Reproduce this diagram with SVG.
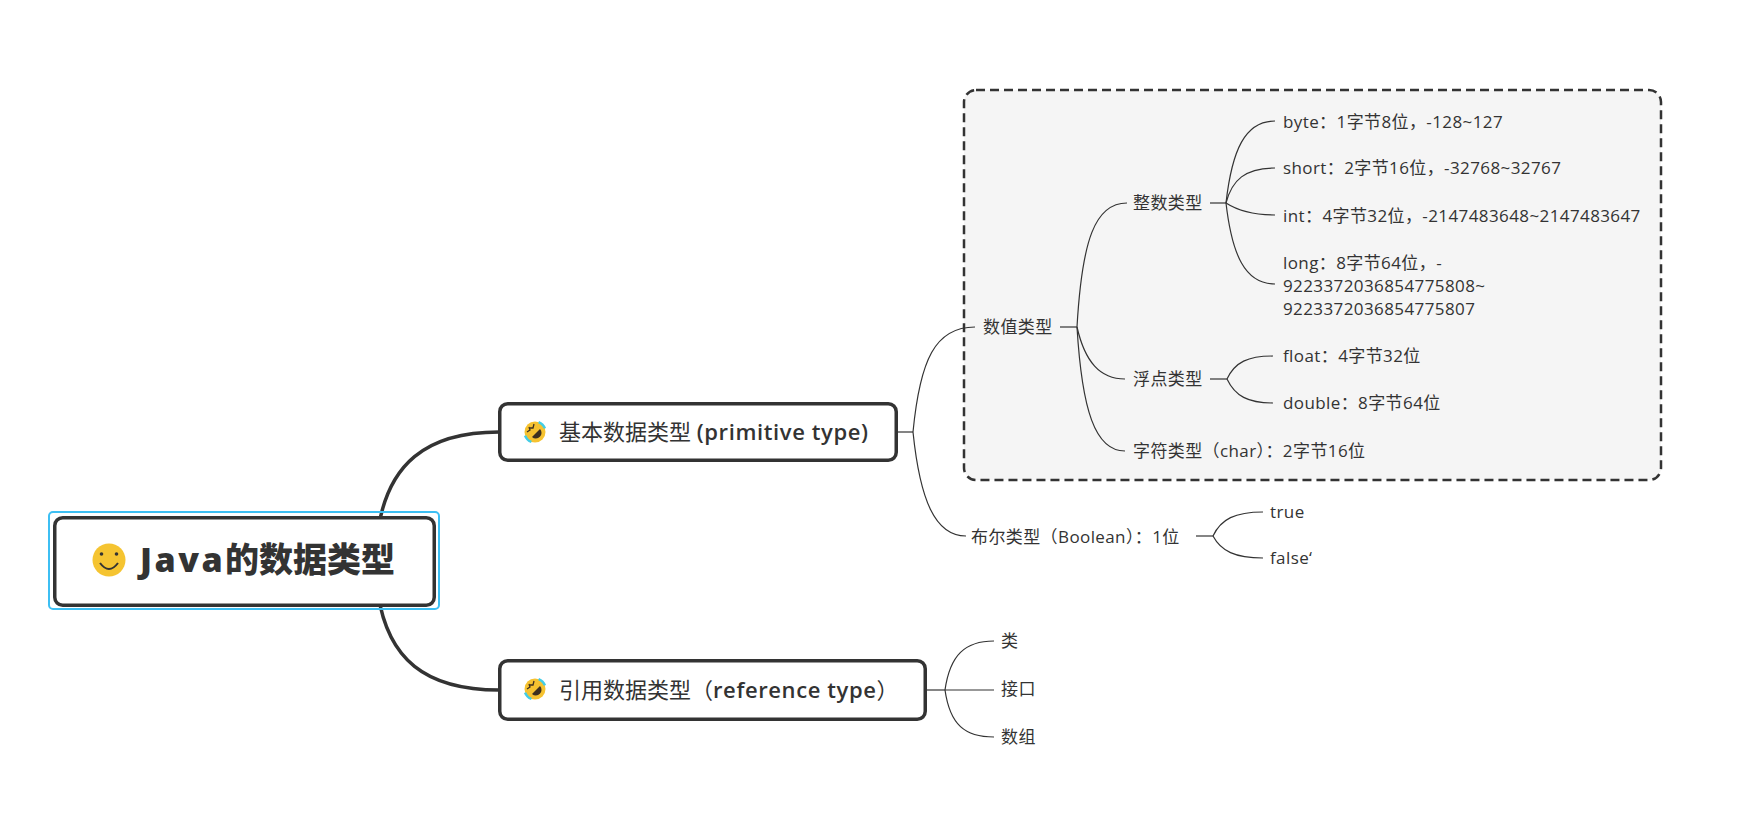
<svg xmlns="http://www.w3.org/2000/svg" width="1751" height="815" viewBox="0 0 1751 815">
<style>
text{font-family:"Open Sans","Noto Sans CJK SC",sans-serif;fill:#333}
.leaf{font-size:17px;letter-spacing:0.4px}
.prim{font-size:22px}
.lat{font-weight:600;letter-spacing:0.6px}
.thin{fill:none;stroke:#333;stroke-width:1.2}
.thick{fill:none;stroke:#333;stroke-width:3.5}
.box{fill:#fff;stroke:#333;stroke-width:3.5}
</style>
<defs>
<g id="rofl">
<circle r="10.5" fill="#F6C230"/>
<path d="M -3 5 L 5 -3 A 5.66 5.66 0 0 1 -3 5 Z" fill="#3d3020"/>
<path d="M -8 0 L -5 -2 L -6 -5" fill="none" stroke="#3d3020" stroke-width="1.3"/>
<path d="M -1 -8 L -2 -4 L -5 -4" fill="none" stroke="#3d3020" stroke-width="1.3"/>
<path d="M 3.6 -9.9 A 10.5 10.5 0 0 1 9.9 -3.6" fill="none" stroke="#43CDE6" stroke-width="2.5"/>
<path d="M -9.9 3.6 A 10.5 10.5 0 0 0 -3.6 9.9" fill="none" stroke="#43CDE6" stroke-width="2.5"/>
</g>
</defs>
<rect width="1751" height="815" fill="#fff"/>

<g id="boundary">
<rect x="964" y="90" width="697" height="390" rx="12" fill="#f5f5f5" stroke="#333" stroke-width="2.5" stroke-dasharray="9 5"/>
</g>

<g id="connectors">
<path class="thick" d="M 378 530 C 388 465, 425 432, 499 432"/>
<path class="thick" d="M 378 594 C 388 659, 425 690, 499 690"/>
<path class="thin" d="M 898 432 L 913 432"/>
<path class="thin" d="M 913 432 C 920 360, 935 327, 975 327"/>
<path class="thin" d="M 913 432 C 920 500, 935 536, 966 536"/>
<path class="thin" d="M 1060 327 L 1077 327"/>
<path class="thin" d="M 1077 327 C 1082 240, 1095 203, 1127 203"/>
<path class="thin" d="M 1077 327 C 1085 362, 1100 379, 1125 379"/>
<path class="thin" d="M 1077 327 C 1082 410, 1095 451, 1125 451"/>
<path class="thin" d="M 1210 203 L 1226 203"/>
<path class="thin" d="M 1226 203 C 1232 150, 1245 121, 1275 121"/>
<path class="thin" d="M 1226 203 C 1232 180, 1245 168, 1275 168"/>
<path class="thin" d="M 1226 203 C 1240 212, 1255 215, 1275 215"/>
<path class="thin" d="M 1226 203 C 1232 255, 1245 284, 1275 284"/>
<path class="thin" d="M 1210 379 L 1227 379"/>
<path class="thin" d="M 1227 379 C 1235 362, 1248 356, 1273 356"/>
<path class="thin" d="M 1227 379 C 1235 396, 1248 403, 1273 403"/>
<path class="thin" d="M 1196 536 L 1213 536"/>
<path class="thin" d="M 1213 536 C 1221 519, 1235 512, 1263 512"/>
<path class="thin" d="M 1213 536 C 1221 551, 1235 558, 1263 558"/>
<path class="thin" d="M 927 690 L 945 690"/>
<path class="thin" d="M 945 690 C 950 655, 965 641, 994 641"/>
<path class="thin" d="M 945 690 L 994 690"/>
<path class="thin" d="M 945 690 C 950 725, 965 737, 994 737"/>
</g>

<g id="root">
<rect x="49" y="512" width="390" height="97" rx="4" fill="none" stroke="#3DBFF3" stroke-width="2"/>
<rect class="box" x="54.75" y="517.75" width="379.5" height="87.5" rx="8"/>
<circle cx="109" cy="560" r="16.5" fill="#F5C431"/>
<circle cx="101.5" cy="554" r="1.8" fill="#333"/>
<circle cx="116.5" cy="554" r="1.8" fill="#333"/>
<path d="M 100 563 Q 109 575 118 563" fill="none" stroke="#333" stroke-width="2"/>
<text x="140" y="572" font-size="34" font-weight="800"><tspan letter-spacing="2.5">Java</tspan>的数据类型</text>
</g>

<g id="primitive">
<rect class="box" x="499.75" y="403.75" width="396.5" height="56.5" rx="8"/>
<use href="#rofl" x="535" y="432"/>
<text class="prim" x="559" y="440">基本数据类型 <tspan class="lat">(primitive type)</tspan></text>
</g>

<g id="reference">
<rect class="box" x="499.75" y="660.75" width="425.5" height="58.5" rx="8"/>
<use href="#rofl" x="535" y="689"/>
<text class="prim" x="559" y="698">引用数据类型（<tspan class="lat">reference type</tspan>）</text>
</g>

<g id="numeric"><text class="leaf" x="983" y="333">数值类型</text></g>
<g id="integer"><text class="leaf" x="1133" y="209">整数类型</text></g>
<g id="byte"><text class="leaf" x="1283" y="128">byte：1字节8位，-128~127</text></g>
<g id="short"><text class="leaf" x="1283" y="174">short：2字节16位，-32768~32767</text></g>
<g id="int"><text class="leaf" x="1283" y="222">int：4字节32位，-2147483648~2147483647</text></g>
<g id="long"><text class="leaf" x="1283" y="269">long：8字节64位，-<tspan x="1283" y="292">9223372036854775808~</tspan><tspan x="1283" y="315">9223372036854775807</tspan></text></g>
<g id="floating"><text class="leaf" x="1133" y="385">浮点类型</text></g>
<g id="float"><text class="leaf" x="1283" y="362">float：4字节32位</text></g>
<g id="double"><text class="leaf" x="1283" y="409">double：8字节64位</text></g>
<g id="char"><text class="leaf" x="1133" y="457">字符类型（char）：2字节16位</text></g>
<g id="boolean"><text class="leaf" x="971" y="543">布尔类型（Boolean）：1位</text></g>
<g id="true"><text class="leaf" x="1270" y="518">true</text></g>
<g id="false"><text class="leaf" x="1270" y="564">false‘</text></g>
<g id="class"><text class="leaf" x="1001" y="647">类</text></g>
<g id="interface"><text class="leaf" x="1001" y="695">接口</text></g>
<g id="array"><text class="leaf" x="1001" y="743">数组</text></g>
</svg>
